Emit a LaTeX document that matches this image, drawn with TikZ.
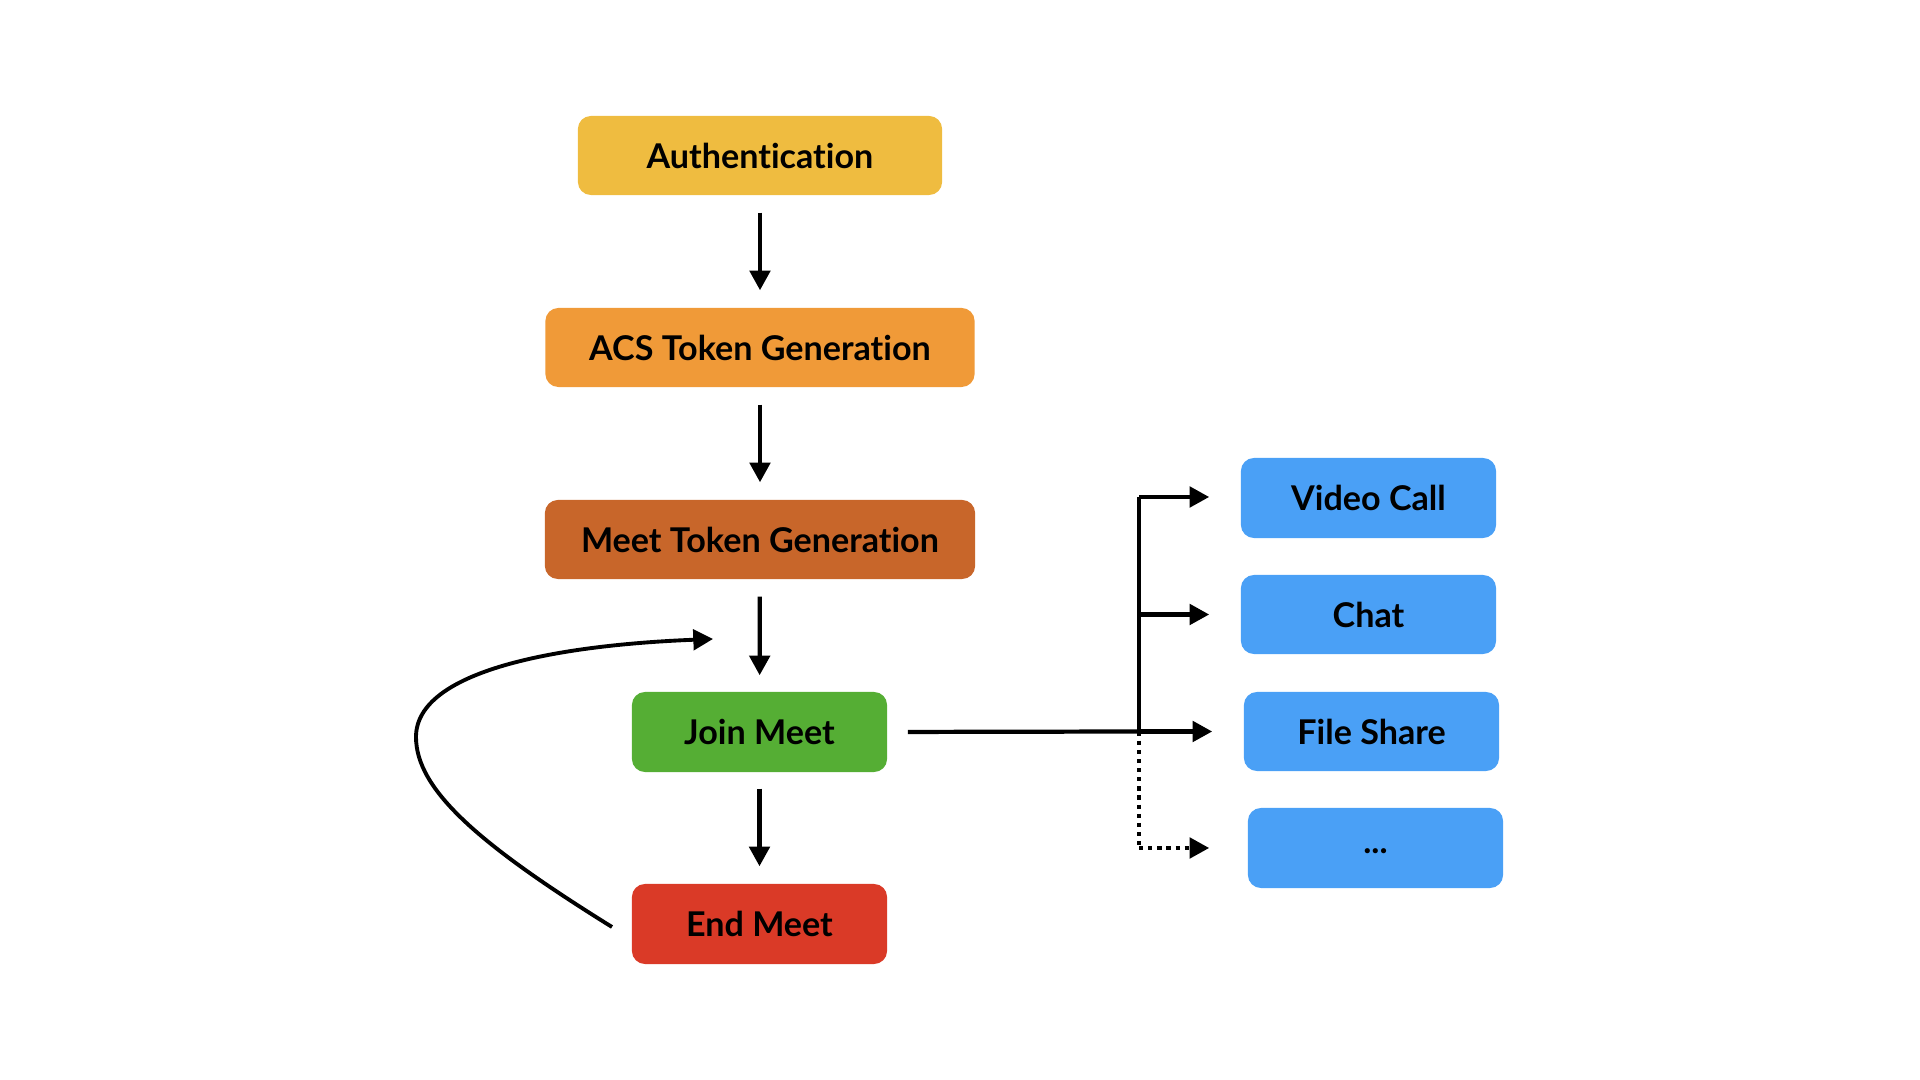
\documentclass[tikz,border=0pt]{standalone}
\usepackage{fontspec}
\setmainfont[Ligatures=NoCommon]{Lato}
\usetikzlibrary{arrows.meta,calc}
\definecolor{cauth}{RGB}{239,188,64}
\definecolor{cacs}{RGB}{240,154,56}
\definecolor{cmeet}{RGB}{200,102,42}
\definecolor{cjoin}{RGB}{85,174,52}
\definecolor{cend}{RGB}{218,58,39}
\definecolor{cblue}{RGB}{74,160,246}
\tikzset{
  box/.style={rounded corners=1.3mm, inner sep=0pt, font=\fontsize{9.7}{11}\selectfont\bfseries, text=black},
  flow/.style={line width=1.2pt, -{Triangle[length=5.6pt,width=5.8pt]}},
}
\begin{document}
\begin{tikzpicture}[x=0.01cm,y=-0.01cm]
\useasboundingbox (0,0) rectangle (1920,1080);
\node[box, fill=cauth, minimum width=3.64cm, minimum height=0.79cm] (auth) at (760,155.5) {Authentication};
\node[box, fill=cacs, minimum width=4.29cm, minimum height=0.79cm] (acs) at (760,347.5) {ACS Token Generation};
\node[box, fill=cmeet, minimum width=4.30cm, minimum height=0.79cm] (meet) at (760,539.5) {Meet Token Generation};
\node[box, fill=cjoin, minimum width=2.55cm, minimum height=0.80cm] (join) at (759.5,732) {Join Meet};
\node[box, fill=cend, minimum width=2.55cm, minimum height=0.80cm] (endm) at (759.5,924) {End Meet};
\node[box, fill=cblue, minimum width=2.55cm, minimum height=0.80cm] (video) at (1368.5,498) {Video Call};
\node[box, fill=cblue, minimum width=2.55cm, minimum height=0.79cm] (chat) at (1368.5,614.5) {Chat};
\node[box, fill=cblue, minimum width=2.55cm, minimum height=0.79cm] (file) at (1371.5,731.5) {File Share};
\node[box, fill=cblue, minimum width=2.55cm, minimum height=0.80cm] (more) at (1375.5,848) {\raisebox{-0.6ex}{...}};

\draw[flow, shorten <=0.17cm, shorten >=0.17cm] (auth) -- (acs);
\draw[flow, shorten <=0.17cm, shorten >=0.17cm] (acs) -- (meet);
\draw[flow, shorten <=0.17cm, shorten >=0.16cm] (meet) -- (join);
\draw[flow, shorten <=0.16cm, shorten >=0.17cm] (join) -- (endm);

\coordinate (bus) at (1139,731.5);
\coordinate (bustop) at (1139,497);
\coordinate (loopend) at (713,639);
\coordinate (loopstart) at (612,927);

\draw[line width=1.2pt, shorten <=0.2cm] (join.east) -- (bus);
\draw[line width=1.2pt] (bus) -- (bustop);
\draw[flow, shorten >=0.31cm] (bustop) -- (bustop -| video.west);
\draw[flow, shorten >=0.31cm] (bus |- chat.west) -- (chat.west);
\draw[flow, shorten >=0.31cm] (bus) -- (file.west);
\draw[line width=1.2pt, dash pattern=on 1.2pt off 1.4pt] (bus) -- (bus |- more.west);
\draw[flow, dash pattern=on 1.2pt off 1.4pt, shorten >=0.38cm] (bus |- more.west) -- (more.west);

\draw[line width=1.1pt, -{Triangle[length=5.6pt,width=5.8pt]}] (loopstart) .. controls (480,845) and (416,790) .. (416,737) .. controls (416,670) and (560,645) .. (loopend);
\end{tikzpicture}
\end{document}
